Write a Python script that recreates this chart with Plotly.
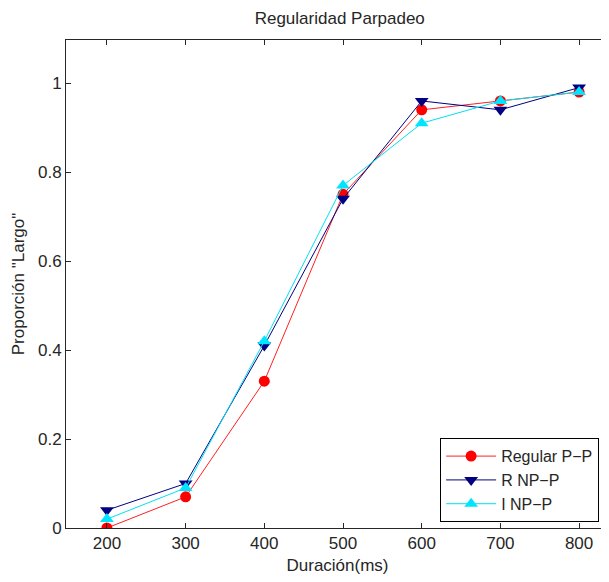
import plotly.graph_objects as go

durations = [200, 300, 400, 500, 600, 700, 800]
regular_pp = [0.00, 0.07, 0.33, 0.75, 0.94, 0.96, 0.98]
r_np_p = [0.04, 0.10, 0.41, 0.74, 0.96, 0.94, 0.99]
i_np_p = [0.02, 0.09, 0.42, 0.77, 0.91, 0.96, 0.98]

series_names = ["Regular P\u2212P", "R NP\u2212P", "I NP\u2212P"]
x_ticks = [200, 300, 400, 500, 600, 700, 800]
y_ticks = [0, 0.2, 0.4, 0.6, 0.8, 1]
y_tick_labels = ["0", "0.2", "0.4", "0.6", "0.8", "1"]

fig = go.Figure()
fig.add_trace(go.Scatter(x=durations, y=regular_pp, name=series_names[0], mode="lines+markers",
                         line=dict(color="#ff2020", width=1),
                         marker=dict(symbol="circle", size=11, color="#ff0000")))
fig.add_trace(go.Scatter(x=durations, y=r_np_p, name=series_names[1], mode="lines+markers",
                         line=dict(color="#000080", width=1),
                         marker=dict(symbol="triangle-down", size=12, color="#000080")))
fig.add_trace(go.Scatter(x=durations, y=i_np_p, name=series_names[2], mode="lines+markers",
                         line=dict(color="#00e0f0", width=1),
                         marker=dict(symbol="triangle-up", size=12, color="#00e5ff")))

font_family = "Liberation Sans, Arial, sans-serif"
txt = "#262626"
fig.update_layout(
    width=601, height=574,
    margin=dict(l=58, r=0, t=32, b=54, autoexpand=False),
    paper_bgcolor="white", plot_bgcolor="white",
    font=dict(family=font_family, color=txt, size=17),
    title=dict(text="Regularidad Parpadeo", x=0.552, xanchor="center", y=0.983, yanchor="middle",
               font=dict(size=17, family=font_family, color=txt)),
    showlegend=True,
    legend=dict(x=0.689, y=0.184, xanchor="left", yanchor="top",
                bgcolor="white", bordercolor="#000000", borderwidth=1,
                font=dict(size=16, family=font_family, color=txt),
                tracegroupgap=0, itemwidth=50),
)
fig.update_xaxes(range=[148, 838], tickvals=x_ticks, ticks="inside", ticklen=5,
                 tickcolor=txt, showline=True, linecolor=txt, linewidth=1,
                 mirror="ticks", showgrid=False, zeroline=False, automargin=False,
                 title=dict(text="Duración(ms)", standoff=6, font=dict(size=17)),
                 tickfont=dict(size=17))
fig.update_yaxes(range=[0, 1.097], tickvals=y_ticks, ticktext=y_tick_labels, ticks="inside",
                 ticklen=5, tickcolor=txt, showline=True, linecolor=txt, linewidth=1,
                 mirror=False, showgrid=False, zeroline=False, automargin=False,
                 title=dict(text='Proporción "Largo"', standoff=9, font=dict(size=17)),
                 tickfont=dict(size=17))

fig.write_html("out.html")
